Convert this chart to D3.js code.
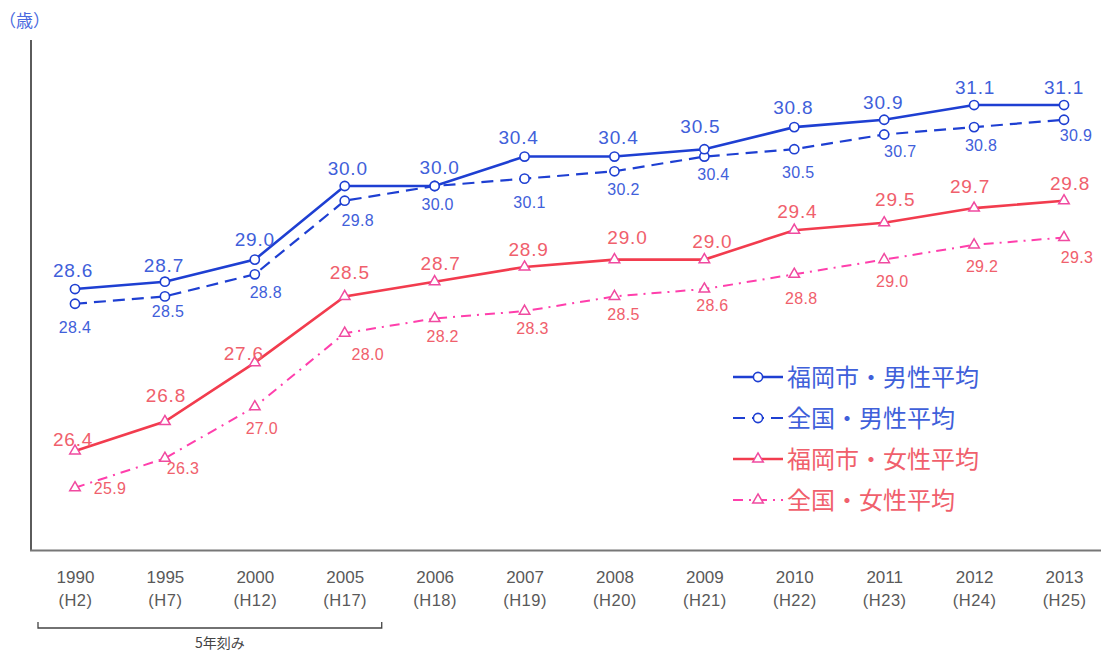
<!DOCTYPE html>
<html><head><meta charset="utf-8">
<script src="https://cdn.jsdelivr.net/npm/d3@7"></script>
<style>html,body{margin:0;padding:0;background:#fff;}svg{display:block;}</style>
</head><body>
<svg id="c" width="1101" height="652"></svg>
<script>
const years = ["1990","1995","2000","2005","2006","2007","2008","2009","2010","2011","2012","2013"];
const heisei = ["(H2)","(H7)","(H12)","(H17)","(H18)","(H19)","(H20)","(H21)","(H22)","(H23)","(H24)","(H25)"];
const fukuokaMale   = [28.6,28.7,29.0,30.0,30.0,30.4,30.4,30.5,30.8,30.9,31.1,31.1];
const nationalMale  = [28.4,28.5,28.8,29.8,30.0,30.1,30.2,30.4,30.5,30.7,30.8,30.9];
const fukuokaFemale = [26.4,26.8,27.6,28.5,28.7,28.9,29.0,29.0,29.4,29.5,29.7,29.8];
const nationalFemale= [25.9,26.3,27.0,28.0,28.2,28.3,28.5,28.6,28.8,29.0,29.2,29.3];
const seriesNames = ["福岡市・男性平均","全国・男性平均","福岡市・女性平均","全国・女性平均"];
const unitLabel = "（歳）";
const bracketLabel = "5年刻み";

// layout / style (not data)
const labelNudge = [
  [[-2,-19],[-1,-17],[0,-20],[3,-18],[5,-19],[-6,-19],[4,-19],[-4,-23],[-1,-20],[-1,-18],[1,-18],[0,-18]],
  [[0,23],[3,15],[11,18],[13,20],[3,18],[5,24],[9,18],[9,18],[4,23],[16,17],[7,18],[12,15]],
  [[-2,-12],[1,-26],[-11,-9],[5,-24],[6,-19],[4,-18],[13,-22],[8,-18],[3,-19],[11,-24],[-4,-22],[6,-18]],
  [[35,0],[18,10],[7,21],[23,21],[8,18],[8,17],[9,18],[8,16],[7,24],[8,22],[8,21],[13,20]]
];
const styles = [
  {line:"#1e3fd2", text:"#3f60da", dash:null, w:2.6, marker:"circle", mcol:"#1e3fd2", fs:19, ls:0.8},
  {line:"#1e3fd2", text:"#3f60da", dash:"12,7", w:2.2, marker:"circle", mcol:"#1e3fd2", fs:16, ls:0.3},
  {line:"#f23c4e", text:"#f0606c", dash:null, w:2.6, marker:"tri", mcol:"#f04aa0", fs:19, ls:0.8},
  {line:"#ff3fac", text:"#f0606c", dash:"10,6,2,6", w:2.0, marker:"tri", mcol:"#f04aa0", fs:16, ls:0.3}
];
const allSeries = [fukuokaMale, nationalMale, fukuokaFemale, nationalFemale];

const svg = d3.select("#c");
const x = d3.scalePoint().domain(years).range([75,1064]);
const y = d3.scaleLinear().domain([25,32]).range([554,38.8]);

const numFont = "'Liberation Sans', Arial, sans-serif";
const jpFont = "'Noto Sans CJK JP', sans-serif";

// axes
svg.append("line").attr("x1",31).attr("x2",31).attr("y1",40).attr("y2",551)
  .attr("stroke","#333").attr("stroke-width",1.6);
svg.append("line").attr("x1",30).attr("x2",1101).attr("y1",550.5).attr("y2",550.5)
  .attr("stroke","#777").attr("stroke-width",2);

const xAxis = svg.append("g").attr("transform","translate(0,550)");
xAxis.call(d3.axisBottom(x).tickSize(0).tickPadding(0).tickFormat(()=>"" ));
xAxis.select(".domain").remove();
xAxis.selectAll(".tick text").remove();
xAxis.selectAll(".tick").each(function(d,i){
  const g = d3.select(this);
  g.append("text").attr("y",33).attr("text-anchor","middle").attr("font-family",numFont)
    .attr("font-size",17).attr("fill","#595959").text(d);
  g.append("text").attr("y",56).attr("text-anchor","middle").attr("font-family",numFont)
    .attr("font-size",16.5).attr("fill","#595959").attr("letter-spacing",0.5).text(heisei[i]);
});

// unit label
svg.append("text").attr("x",-1).attr("y",27).attr("font-family",jpFont).attr("font-size",17)
  .attr("fill","#4a6ae0").text(unitLabel);

// bracket
svg.append("path").attr("d",`M${x("1990")-37},622 V628 H${x("2005")+37} V622`)
  .attr("fill","none").attr("stroke","#444").attr("stroke-width",1.3);
svg.append("text").attr("x",(x("1990")+x("2005"))/2+10).attr("y",648).attr("text-anchor","middle")
  .attr("font-family",jpFont).attr("font-size",14).attr("fill","#444").text(bracketLabel);

const tri = d3.symbol().type(d3.symbolTriangle).size(48);

function drawMarker(g, st, cx, cy){
  if(st.marker==="circle"){
    g.append("circle").attr("cx",cx).attr("cy",cy).attr("r",4.6)
      .attr("fill","#fff").attr("stroke",st.mcol).attr("stroke-width",1.6);
  } else {
    g.append("path").attr("d",tri()).attr("transform",`translate(${cx},${cy})`)
      .attr("fill","#fff").attr("stroke",st.mcol).attr("stroke-width",1.5);
  }
}

const line = d3.line().x((d,i)=>x(years[i])).y(d=>y(d));
[3,2,1,0].forEach(k=>{
  const st = styles[k], data = allSeries[k];
  const g = svg.append("g");
  g.append("path").datum(data).attr("d",line).attr("fill","none")
    .attr("stroke",st.line).attr("stroke-width",st.w)
    .attr("stroke-dasharray",st.dash);
  data.forEach((v,i)=>drawMarker(g, st, x(years[i]), y(v)));
});
[3,2,1,0].forEach(k=>{
  const st = styles[k], data = allSeries[k];
  svg.append("g").selectAll("text").data(data).join("text")
    .attr("x",(d,i)=>x(years[i])+labelNudge[k][i][0])
    .attr("y",(d,i)=>y(d)+labelNudge[k][i][1])
    .attr("dy","0.36em").attr("text-anchor","middle")
    .attr("font-family",numFont).attr("font-size",st.fs).attr("letter-spacing",st.ls)
    .attr("fill",st.text)
    .text(d=>d.toFixed(1));
});

// legend
const legRows = [377,418,459,500];
seriesNames.forEach((name,k)=>{
  const st = styles[k];
  const g = svg.append("g");
  const yy = legRows[k];
  g.append("line").attr("x1",733).attr("x2",783).attr("y1",yy).attr("y2",yy)
    .attr("stroke",st.line).attr("stroke-width",st.w).attr("stroke-dasharray",st.dash);
  drawMarker(g, st, 758, yy);
  g.append("text").attr("x",787).attr("y",yy).attr("dy","0.36em")
    .attr("font-family",jpFont).attr("font-size",24).attr("fill",st.text).text(name);
});
</script>
</body></html>
